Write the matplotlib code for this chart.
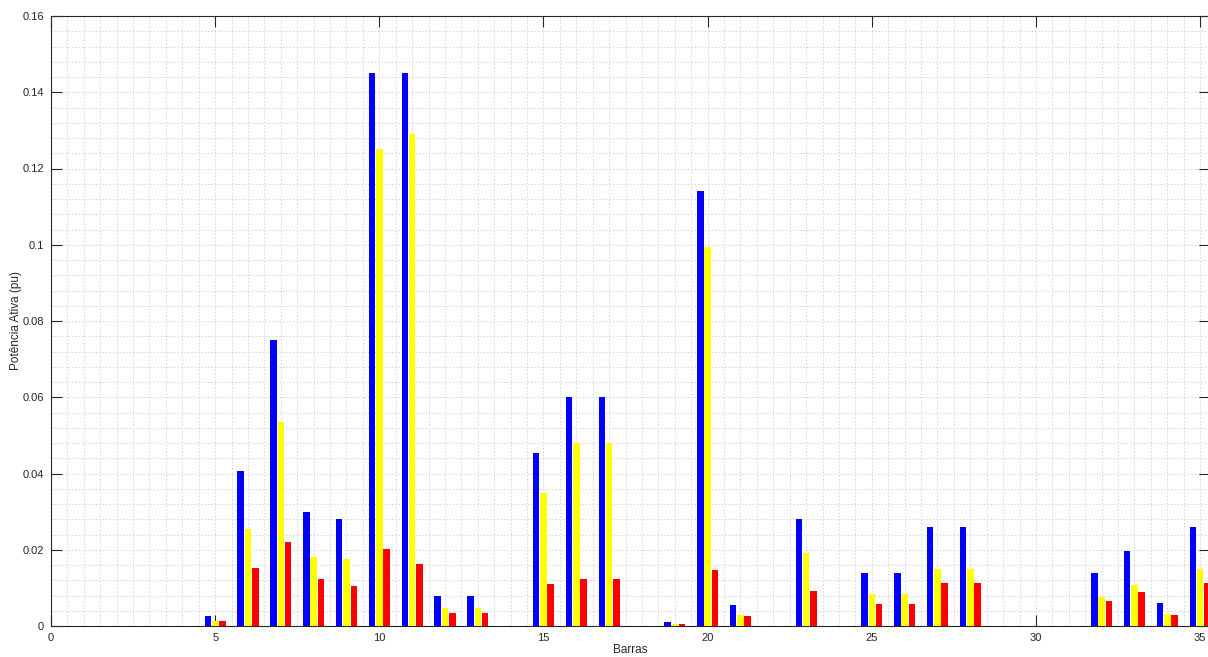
import matplotlib
matplotlib.use("Agg")
import matplotlib.pyplot as plt
import numpy as np
from matplotlib.ticker import MultipleLocator, FixedLocator

barras = list(range(1, 36))
serie_azul = [0, 0, 0, 0, 0.0026, 0.0407, 0.075, 0.030, 0.028, 0.145,
              0.145, 0.008, 0.008, 0, 0.0455, 0.060, 0.060, 0, 0.001, 0.114,
              0.0054, 0, 0.028, 0, 0.014, 0.014, 0.026, 0.026, 0, 0,
              0, 0.014, 0.0197, 0.006, 0.026]
serie_amarela = [0, 0, 0, 0, 0.0014, 0.0254, 0.0535, 0.018, 0.0177, 0.125,
                 0.129, 0.0047, 0.0047, 0, 0.0349, 0.048, 0.048, 0, 0.0006, 0.0995,
                 0.0029, 0, 0.0192, 0, 0.0084, 0.0084, 0.015, 0.015, 0, 0,
                 0, 0.0076, 0.0108, 0.0031, 0.015]
serie_vermelha = [0, 0, 0, 0, 0.0014, 0.0152, 0.022, 0.0123, 0.0106, 0.0203,
                  0.0163, 0.0035, 0.0035, 0, 0.0109, 0.0122, 0.0122, 0, 0.0006, 0.0147,
                  0.0025, 0, 0.0092, 0, 0.0058, 0.0058, 0.0113, 0.0113, 0, 0,
                  0, 0.0066, 0.0088, 0.003, 0.0113]
x_ticks = [0, 5, 10, 15, 20, 25, 30, 35]
y_ticks = [0, 0.02, 0.04, 0.06, 0.08, 0.1, 0.12, 0.14, 0.16]
y_labels = ["0", "0.02", "0.04", "0.06", "0.08", "0.1", "0.12", "0.14", "0.16"]

plt.rcParams['font.family'] = ['Liberation Sans', 'DejaVu Sans']
txt = '#262626'

fig = plt.figure(figsize=(12.08, 6.57), dpi=100)
ax = fig.add_axes([51/1208, 31/657, 1159/1208, 610/657])

x = np.array(barras, dtype=float)
off = 0.222
w = 0.2
ax.bar(x - off, serie_azul, width=w, color='#0000ff', zorder=3)
ax.bar(x, serie_amarela, width=w, color='#ffff00', zorder=3)
ax.bar(x + off, serie_vermelha, width=w, color='#ff0000', zorder=3)

ax.set_xlim(0, 35.3)
ax.set_ylim(0, 0.16)
ax.xaxis.set_major_locator(FixedLocator(x_ticks))
ax.yaxis.set_major_locator(FixedLocator(y_ticks))
ax.set_yticklabels(y_labels)
ax.xaxis.set_minor_locator(MultipleLocator(0.5))
ax.yaxis.set_minor_locator(MultipleLocator(0.004))

ax.grid(True, which='both', color='#d4d4d4', linestyle=(0, (1.5, 2)), linewidth=0.7, zorder=0)
ax.set_axisbelow(True)

ax.tick_params(which='major', direction='in', length=8, width=0.8, colors=txt,
               labelsize=8, top=True, right=True, pad=5)
ax.tick_params(which='minor', length=0, top=True, right=True)
for s in ax.spines.values():
    s.set_color(txt)
    s.set_linewidth(0.8)

ax.set_xlabel('Barras', fontsize=8.5, color=txt, va='center')
ax.set_ylabel('Potência Ativa (pu)', fontsize=8.5, color=txt, va='center')
ax.xaxis.set_label_coords(0.5, -24 / 610)
ax.yaxis.set_label_coords(-35 / 1159, 0.5)

fig.savefig('out.png', dpi=100)
